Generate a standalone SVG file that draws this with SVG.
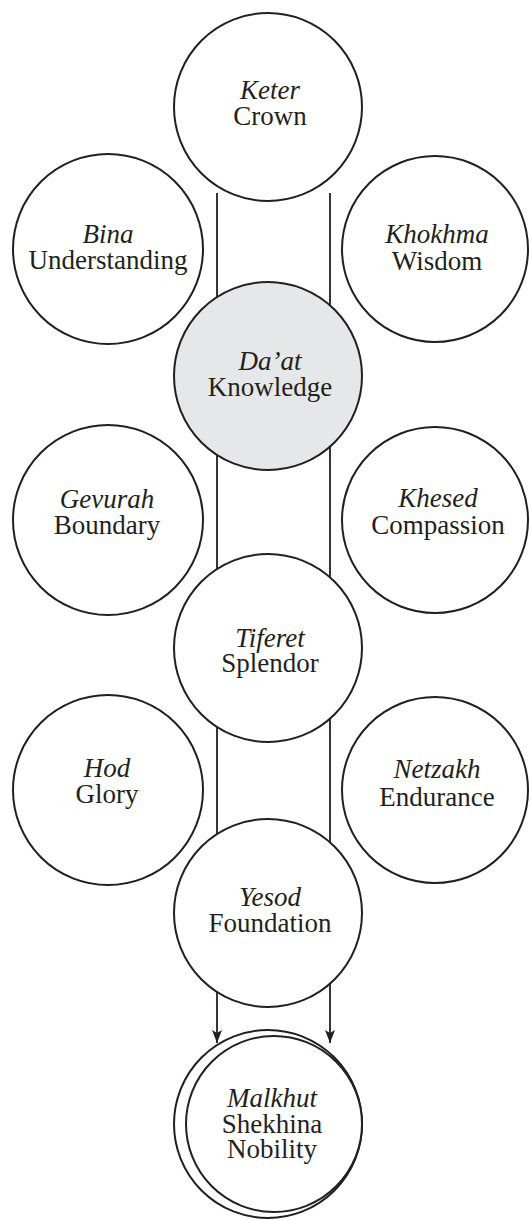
<svg xmlns="http://www.w3.org/2000/svg" width="529" height="1220" viewBox="0 0 529 1220">
<style>
.c{fill:#ffffff;stroke:#231f20;stroke-width:2}
.g{fill:#e6e7e8;stroke:#231f20;stroke-width:2}
.ln{stroke:#231f20;stroke-width:1.8;fill:none}
text{font-family:"Liberation Serif","Times New Roman",serif;font-size:27px;fill:#231f20;text-anchor:middle}
.i{font-style:italic}
</style>
<defs>
<marker id="ah" markerUnits="userSpaceOnUse" markerWidth="14" markerHeight="12" refX="13" refY="5" orient="auto">
<path d="M0,0 L13,5 L0,10 L3,5 Z" fill="#231f20"/>
</marker>
</defs>
<rect width="529" height="1220" fill="#ffffff"/>
<g id="connectors">
<line class="ln" x1="217" y1="193" x2="217" y2="1043" marker-end="url(#ah)"/>
<line class="ln" x1="330" y1="193" x2="330" y2="1043" marker-end="url(#ah)"/>
</g>
<g id="keter"><circle class="c" cx="268" cy="107" r="94"/><text class="i" x="270" y="99">Keter</text><text x="270" y="125">Crown</text></g>
<g id="bina"><circle class="c" cx="108" cy="249" r="95"/><text class="i" x="108" y="243">Bina</text><text x="108" y="269">Understanding</text></g>
<g id="khokhma"><circle class="c" cx="435" cy="249" r="93"/><text class="i" x="437" y="243">Khokhma</text><text x="437" y="270">Wisdom</text></g>
<g id="daat"><circle class="g" cx="268" cy="376" r="94"/><text class="i" x="270" y="370">Da’at</text><text x="270" y="396">Knowledge</text></g>
<g id="gevurah"><circle class="c" cx="108" cy="520" r="95"/><text class="i" x="107" y="508">Gevurah</text><text x="107" y="534">Boundary</text></g>
<g id="khesed"><circle class="c" cx="435" cy="520" r="93"/><text class="i" x="438" y="507">Khesed</text><text x="438" y="534">Compassion</text></g>
<g id="tiferet"><circle class="c" cx="268" cy="648" r="94"/><text class="i" x="270" y="647">Tiferet</text><text x="270" y="672">Splendor</text></g>
<g id="hod"><circle class="c" cx="108" cy="790" r="95"/><text class="i" x="107" y="777">Hod</text><text x="107" y="803">Glory</text></g>
<g id="netzakh"><circle class="c" cx="435" cy="790" r="93"/><text class="i" x="437" y="778">Netzakh</text><text x="437" y="806">Endurance</text></g>
<g id="yesod"><circle class="c" cx="268" cy="913" r="94"/><text class="i" x="270" y="906">Yesod</text><text x="270" y="932">Foundation</text></g>
<g id="malkhut"><circle class="c" cx="268" cy="1124" r="94"/><circle class="c" cx="274" cy="1124" r="88"/><text class="i" x="272" y="1107">Malkhut</text><text x="272" y="1133">Shekhina</text><text x="272" y="1158">Nobility</text></g>
</svg>
